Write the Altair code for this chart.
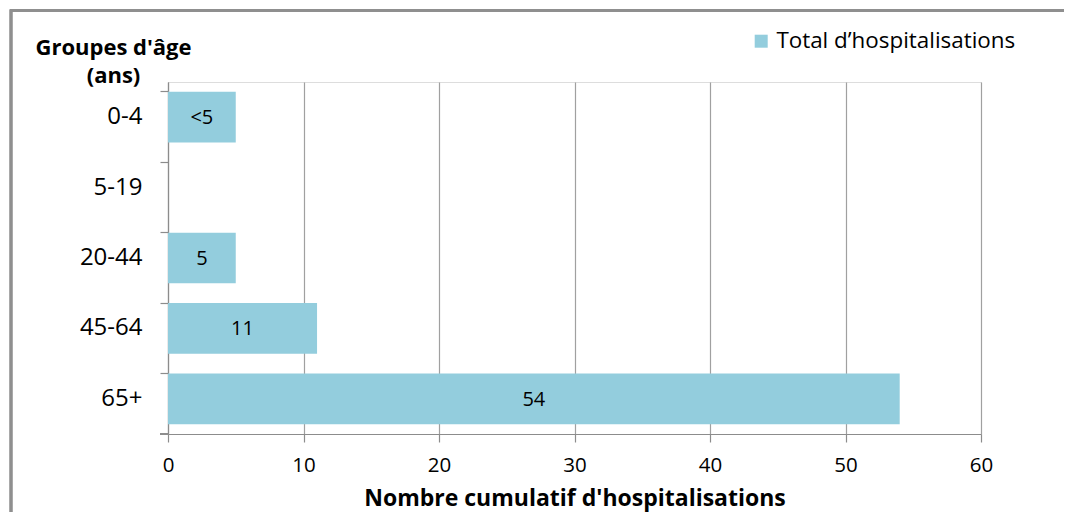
import altair as alt
import pandas as pd

groups = ["0-4", "5-19", "20-44", "45-64", "65+"]
values = [5, 0, 5, 11, 54]
labels = ["<5", "", "5", "11", "54"]
series = "Total d\u2019hospitalisations"
x_ticks = [0, 10, 20, 30, 40, 50, 60]

df = pd.DataFrame({"group": groups, "value": values, "label": labels, "series": [series] * len(groups)})

W, H = 813, 352
GRAY = "#8c8c8c"
FONT = "Open Sans"

base = alt.Chart(df)

ysc = alt.Scale(domain=groups, paddingInner=0.28, paddingOuter=0.14)

bars = base.mark_bar().encode(
    y=alt.Y(
        "group:N", sort=groups, scale=ysc,
        axis=alt.Axis(
            title=["Groupes d'âge", "(ans)"], titleAngle=0, titleX=-55, titleY=-28,
            titleAlign="center", titleBaseline="alphabetic", titleFontSize=22,
            titleFontWeight="bold", titleLineHeight=28, titleColor="black", titleFont=FONT,
            labelFontSize=24, labelPadding=18, labelColor="black", labelFont=FONT,
            tickSize=8, bandPosition=0, domainColor=GRAY, tickColor=GRAY, grid=False,
            domainWidth=1.2, tickWidth=1.2,
        ),
    ),
    x=alt.X(
        "value:Q", scale=alt.Scale(domain=[0, 60], nice=False),
        axis=alt.Axis(
            values=x_ticks, grid=True, gridColor="#a0a0a0", gridWidth=1.2,
            tickSize=8, tickColor=GRAY, domainColor=GRAY, domainWidth=1.2, tickWidth=1.2,
            labelFontSize=20.5, labelPadding=13, labelColor="black", labelFont=FONT,
            labelFlush=False,
            title="Nombre cumulatif d'hospitalisations", titleFontSize=23,
            titleFontWeight="bold", titleY=71, titleBaseline="alphabetic", titleColor="black",
            titleFont=FONT,
        ),
    ),
    color=alt.Color(
        "series:N", scale=alt.Scale(domain=[series], range=["#93CDDD"]),
        legend=alt.Legend(
            orient="none", legendX=582, legendY=-52, title=None, symbolType="square",
            symbolSize=169, symbolStrokeWidth=0, labelFontSize=22.4, labelFont=FONT,
            labelColor="black", padding=0, labelOffset=4, labelLimit=0,
        ),
    ),
)

text = base.transform_calculate(mid="datum.value / 2").mark_text(
    fontSize=20, color="black", font=FONT, baseline="middle", dy=1
).encode(
    y=alt.Y("group:N", sort=groups, scale=ysc),
    x=alt.X("mid:Q"),
    text="label:N",
)

bottom_tick = base.mark_rule(color=GRAY, strokeWidth=1.2).encode(
    x=alt.value(-8), x2=alt.value(0), y=alt.value(H)
)

frame_top = base.mark_rule(color="#8f8f8f", strokeWidth=2.5).encode(
    x=alt.value(-158), x2=alt.value(900), y=alt.value(-71.5)
)
frame_left = base.mark_rule(color="#8f8f8f", strokeWidth=2.5).encode(
    x=alt.value(-157), y=alt.value(-72.5), y2=alt.value(440)
)

chart = alt.layer(bars, text, bottom_tick, frame_top, frame_left).properties(
    width=W, height=H,
    autosize=alt.AutoSizeParams(type="none"),
    padding={"left": 160, "top": 74, "right": 83, "bottom": 78},
).configure_view(stroke=None).configure(font=FONT, background="white")

chart.save("out.html", embed_options={"renderer": "svg", "actions": False})
